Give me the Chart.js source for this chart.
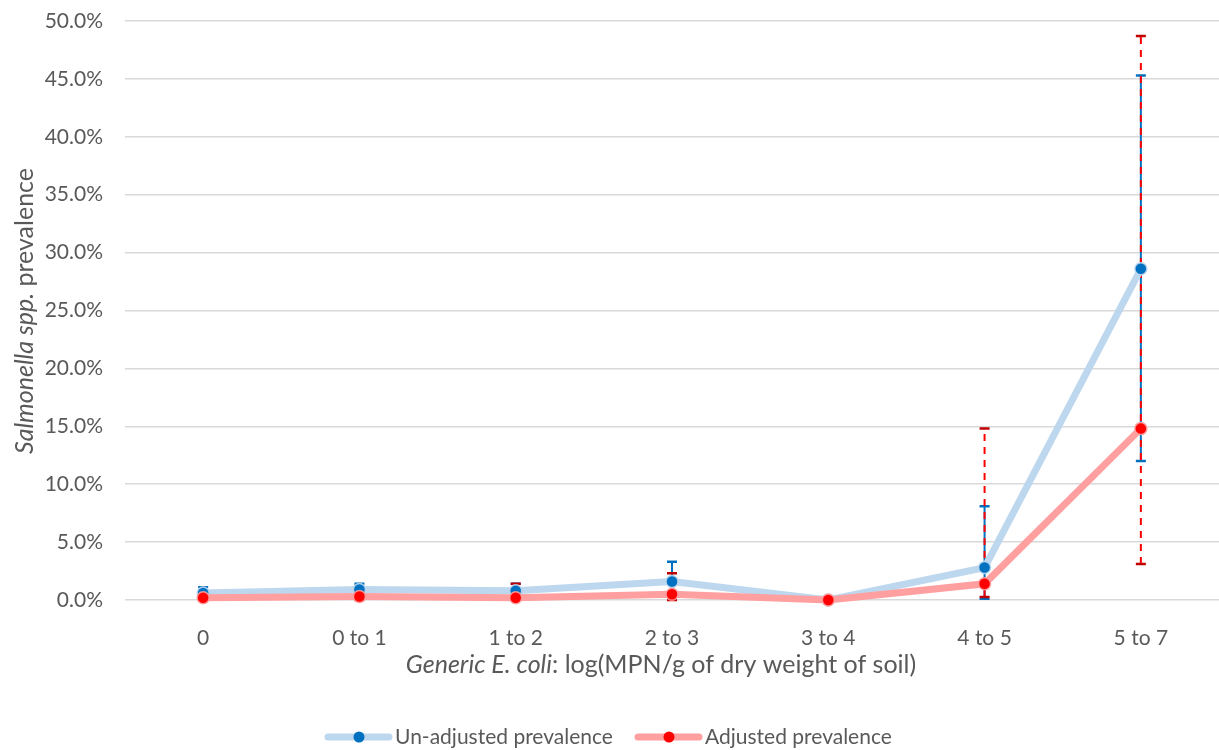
<!DOCTYPE html>
<html><head><meta charset="utf-8">
<script src="https://cdn.jsdelivr.net/npm/chart.js@4.4.1/dist/chart.umd.min.js"></script>
<style>html,body{margin:0;padding:0;background:#fff;overflow:hidden}#wrap{width:1219px;height:750px;position:relative;overflow:hidden}canvas{display:block}</style>
</head><body><div id="wrap"><canvas id="c" width="1219" height="750" style="width:1219px;height:750px"></canvas></div>
<script>
const categories = ["0","0 to 1","1 to 2","2 to 3","3 to 4","4 to 5","5 to 7"];
const unadjusted = [0.6, 0.9, 0.8, 1.6, 0.0, 2.8, 28.6];
const unadjLow   = [0.1, 0.2, 0.2, 0.6, 0.0, 0.1, 12.0];
const unadjHigh  = [1.1, 1.4, 1.4, 3.3, 0.0, 8.1, 45.3];
const adjusted   = [0.2, 0.3, 0.2, 0.5, 0.0, 1.4, 14.8];
const adjLow     = [0.0, 0.0, 0.0, 0.0, 0.0, 0.25, 3.1];
const adjHigh    = [0.6, 0.7, 1.4, 2.3, 0.0, 14.8, 48.7];
const yTicks = [0,5,10,15,20,25,30,35,40,45,50];

const FONT = "Lato, 'Open Sans', sans-serif";
const TXT = "#595959";

const errorBars = {
  id:'errorBars',
  beforeDatasetsDraw(chart){
    const ctx=chart.ctx, x=chart.scales.x, y=chart.scales.y;
    const sets=[
      {lo:unadjLow,hi:unadjHigh,color:'#0070C0',cap:'#0070C0',dash:[]},
      {lo:adjLow,hi:adjHigh,color:'#FF0000',cap:'#C00000',dash:[7,6]}
    ];
    sets.forEach(s=>{
      categories.forEach((c,i)=>{
        if(s.hi[i]===s.lo[i]) return;
        const px=x.getPixelForValue(i), y1=y.getPixelForValue(s.lo[i]), y2=y.getPixelForValue(s.hi[i]);
        ctx.save();
        ctx.strokeStyle=s.color; ctx.lineWidth=2; ctx.setLineDash(s.dash);
        ctx.beginPath(); ctx.moveTo(px,y1); ctx.lineTo(px,y2); ctx.stroke();
        ctx.setLineDash([]); ctx.strokeStyle=s.cap; ctx.lineWidth=2.5;
        ctx.beginPath(); ctx.moveTo(px-5,y1); ctx.lineTo(px+5,y1); ctx.moveTo(px-5,y2); ctx.lineTo(px+5,y2); ctx.stroke();
        ctx.restore();
      });
    });
  }
};

function drawMixed(ctx, parts, x, y, align){
  let total=0;
  parts.forEach(p=>{ctx.font=p.font; total+=ctx.measureText(p.t).width;});
  let cx = align==='center'? x-total/2 : x;
  parts.forEach(p=>{ctx.font=p.font; ctx.fillText(p.t,cx,y); cx+=ctx.measureText(p.t).width;});
}

const titles = {
  id:'titles',
  afterDraw(chart){
    const ctx=chart.ctx;
    ctx.save();
    ctx.fillStyle=TXT; ctx.textBaseline='middle'; ctx.textAlign='left';
    drawMixed(ctx,[{t:'Generic E. coli',font:'italic 25px '+FONT},{t:': log(MPN/g of dry weight of soil)',font:'25px '+FONT}],661,665,'center');
    ctx.translate(25,311); ctx.rotate(-Math.PI/2);
    drawMixed(ctx,[{t:'Salmonella spp.',font:'italic 25px '+FONT},{t:' prevalence',font:'25px '+FONT}],0,0,'center');
    ctx.restore();
    // legend
    ctx.save();
    const items=[{x:325,label:'Un-adjusted prevalence',line:'#BDD7EE',pt:'#0070C0'},{x:635,label:'Adjusted prevalence',line:'#FF9F9F',pt:'#FF0000'}];
    items.forEach(it=>{
      const ly=737;
      ctx.strokeStyle=it.line; ctx.lineWidth=7; ctx.lineCap='round';
      ctx.beginPath(); ctx.moveTo(it.x+3,ly); ctx.lineTo(it.x+64,ly); ctx.stroke();
      ctx.fillStyle=it.pt; ctx.beginPath(); ctx.arc(it.x+34,ly,5.5,0,Math.PI*2); ctx.fill();
      ctx.fillStyle=TXT; ctx.font='21px '+FONT; ctx.textBaseline='middle'; ctx.textAlign='left';
      ctx.fillText(it.label,it.x+70,ly);
    });
    ctx.restore();
  }
};

function noPad(s){s.paddingTop=0;s.paddingBottom=0;s.paddingLeft=0;s.paddingRight=0;}

new Chart(document.getElementById('c'),{
  type:'line',
  data:{labels:categories,datasets:[
    {label:'Un-adjusted prevalence',data:unadjusted,borderColor:'#BDD7EE',borderWidth:7,pointBackgroundColor:'#0070C0',pointBorderColor:'rgba(189,215,238,0.9)',pointBorderWidth:1.5,pointRadius:6,tension:0,order:1,clip:false},
    {label:'Adjusted prevalence',data:adjusted,borderColor:'#FF9F9F',borderWidth:7,pointBackgroundColor:'#FF0000',pointBorderColor:'rgba(255,159,159,0.9)',pointBorderWidth:1.5,pointRadius:6,tension:0,order:0,clip:false}
  ]},
  options:{
    responsive:false,maintainAspectRatio:false,animation:false,
    layout:{autoPadding:false,padding:{top:21,left:0,right:0,bottom:0}},
    plugins:{legend:{display:false},tooltip:{enabled:false}},
    scales:{
      x:{offset:true,grid:{display:false},border:{display:false},
         ticks:{color:TXT,font:{family:FONT,size:21},padding:18},
         afterFit(s){s.height=150;noPad(s);}},
      y:{min:0,max:50,afterBuildTicks(s){s.ticks=yTicks.map(v=>({value:v}));},
         grid:{color:'#D9D9D9',lineWidth:1.5,drawTicks:false},border:{display:false},
         ticks:{color:TXT,font:{family:FONT,size:21},padding:22,callback:v=>v.toFixed(1)+'%'},
         afterFit(s){s.width=125;noPad(s);}}
    }
  },
  plugins:[errorBars,titles]
});
</script></body></html>
